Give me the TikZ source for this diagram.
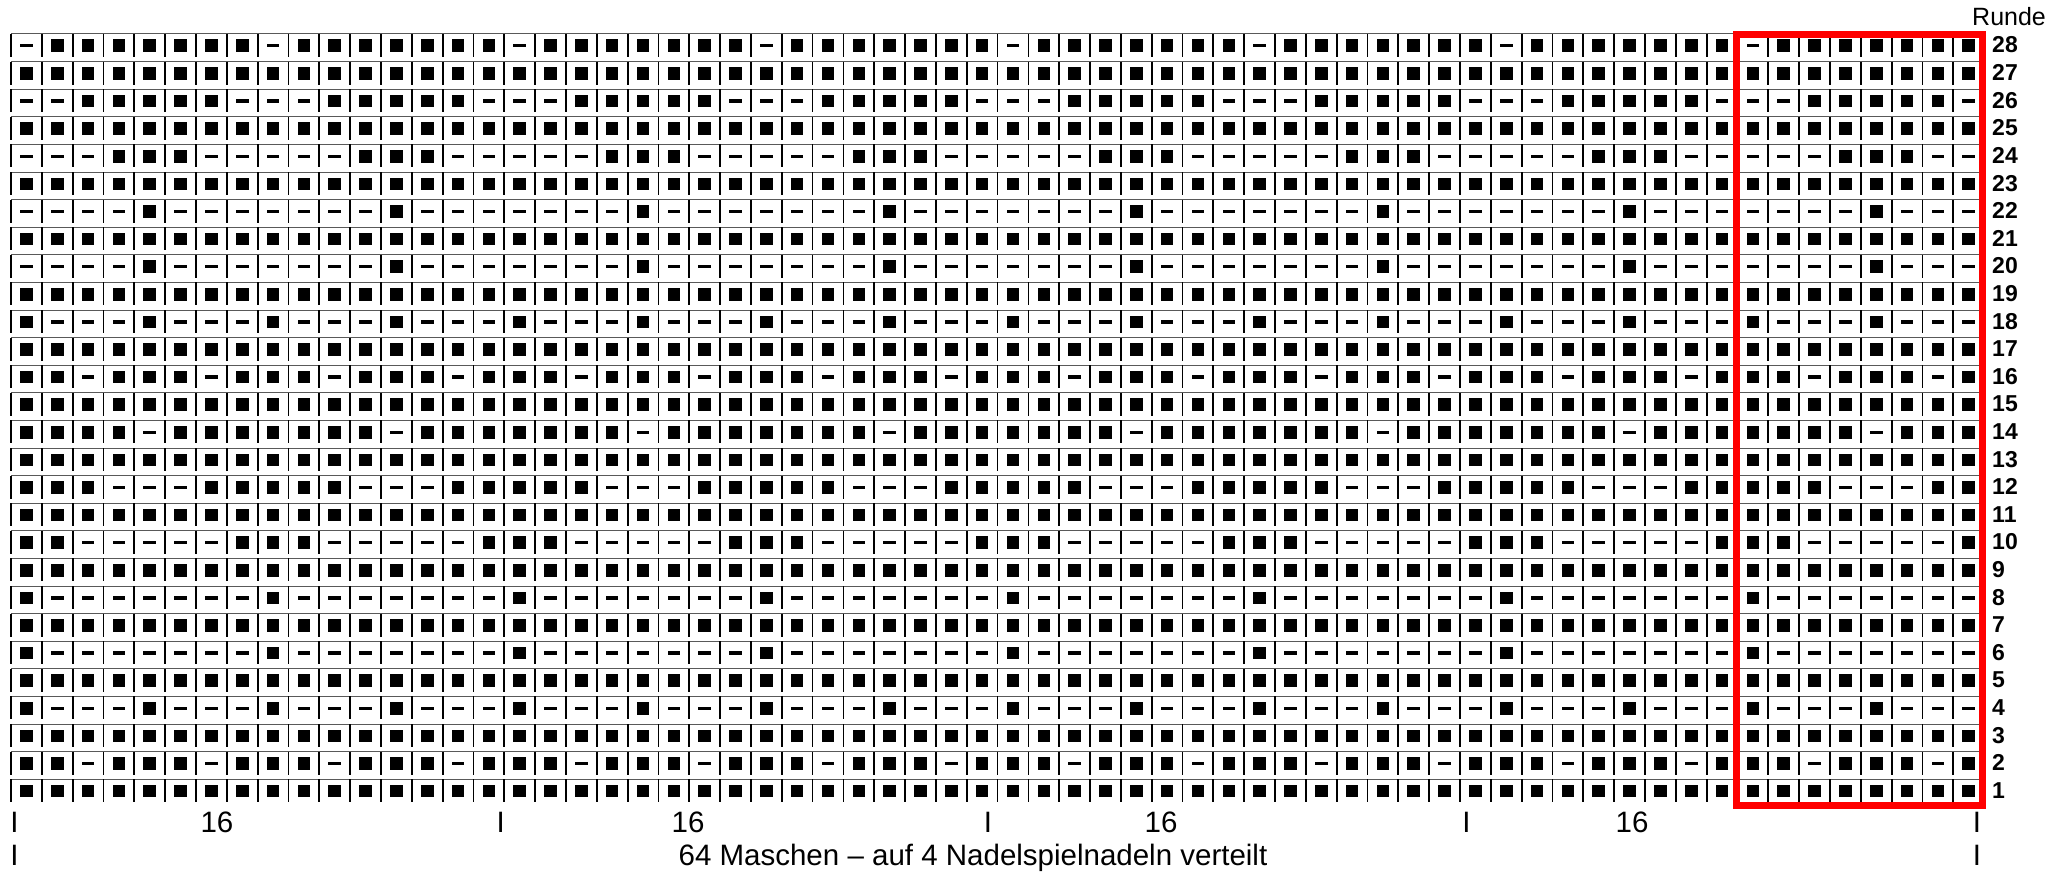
\documentclass[tikz,border=0pt]{standalone}
\usepackage{fontspec}
\setmainfont{Liberation Sans}
\usepackage{tikz}
\usetikzlibrary{positioning}

\begin{document}
\begin{tikzpicture}[x=1pt, y=-1pt,
    knit/.style={fill=black, inner sep=0pt, minimum width=12.6pt, minimum height=12.6pt},
    purl/.style={fill=black, inner sep=0pt, minimum width=12.6pt, minimum height=3.4pt},
    rowno/.style={anchor=base west, inner sep=0pt, font=\fontsize{23}{25}\selectfont\bfseries},
    lbl/.style={anchor=base, inner sep=0pt, font=\fontsize{29.5}{31}\selectfont}
]
\useasboundingbox (0,0) rectangle (2066,872);

% grid: 64 Maschen x 28 Runden
\foreach \r in {1,...,28} {
  \draw[black!65, line width=1pt] (11,{34+(28-\r)*27.6}) -- (1984,{34+(28-\r)*27.6});
  \foreach \c in {0,...,64}
    \draw[line width=1.8pt] ({11+\c*30.83},{34+(28-\r)*27.6}) -- ++(0,23);
}

% stitches, 8er Rapport (1 = rechts, 0 = links)
\foreach \r/\pat in {1/{1,1,1,1,1,1,1,1}, 2/{1,1,0,1,1,1,0,1}, 3/{1,1,1,1,1,1,1,1}, 4/{1,0,0,0,1,0,0,0},
    5/{1,1,1,1,1,1,1,1}, 6/{1,0,0,0,0,0,0,0}, 7/{1,1,1,1,1,1,1,1}, 8/{1,0,0,0,0,0,0,0},
    9/{1,1,1,1,1,1,1,1}, 10/{1,1,0,0,0,0,0,1}, 11/{1,1,1,1,1,1,1,1}, 12/{1,1,1,0,0,0,1,1},
    13/{1,1,1,1,1,1,1,1}, 14/{1,1,1,1,0,1,1,1}, 15/{1,1,1,1,1,1,1,1}, 16/{1,1,0,1,1,1,0,1},
    17/{1,1,1,1,1,1,1,1}, 18/{1,0,0,0,1,0,0,0}, 19/{1,1,1,1,1,1,1,1}, 20/{0,0,0,0,1,0,0,0},
    21/{1,1,1,1,1,1,1,1}, 22/{0,0,0,0,1,0,0,0}, 23/{1,1,1,1,1,1,1,1}, 24/{0,0,0,1,1,1,0,0},
    25/{1,1,1,1,1,1,1,1}, 26/{0,0,1,1,1,1,1,0}, 27/{1,1,1,1,1,1,1,1}, 28/{0,1,1,1,1,1,1,1}} {
  \foreach \s [count=\k from 0] in \pat {
    \foreach \n in {0,...,7} {
      \pgfmathtruncatemacro\c{8*\n+\k+1}
      \ifnum\s=1
        \node[knit] (s\r-\c) at ({11+(\c-0.5)*30.83},{45.8+(28-\r)*27.6}) {};
      \else
        \node[purl] (s\r-\c) at ({11+(\c-0.5)*30.83},{45.8+(28-\r)*27.6}) {};
      \fi
    }
  }
}

% Rundennummern
\foreach \r in {1,...,28}
  \node[rowno] (r\r) at (1992,{53+(28-\r)*27.6}) {\r};
\node[anchor=base west, inner sep=0pt, font=\fontsize{25}{27}\selectfont] (runde) at (1972,26) {Runde};

% Nadeln
\foreach \x [count=\i] in {14.5,500.7,988,1466.5,1977}
  \node[lbl] (tick\i) at (\x,832) {I};
\foreach \x [count=\i] in {217,688,1161,1632}
  \node[lbl] (num\i) at (\x,832) {16};
\node[lbl] (tickA) at (14.5,865) {I};
\node[lbl] (tickB) at (1977,865) {I};
\node[lbl] (total) at (973,865) {64 Maschen – auf 4 Nadelspielnadeln verteilt};

% Rapport
\draw[red, line width=7pt] (1736,35) rectangle (1982,805);
\end{tikzpicture}
\end{document}
